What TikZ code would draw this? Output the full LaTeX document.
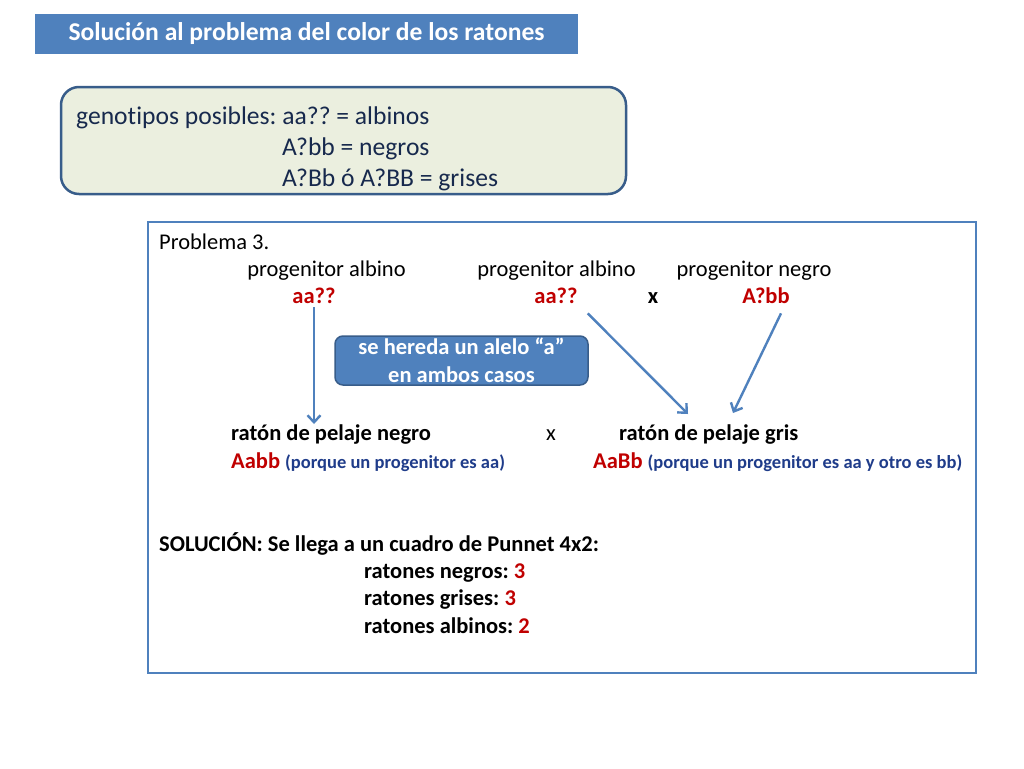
\documentclass[tikz,border=0pt]{standalone}
\usepackage{fontspec}
\setmainfont{Carlito}[Ligatures=NoCommon]
\frenchspacing
\usetikzlibrary{arrows.meta, positioning, calc}
\definecolor{azul}{HTML}{4F81BD}
\definecolor{azulosc}{HTML}{385D8A}
\definecolor{rojo}{HTML}{C00000}
\definecolor{tinta}{HTML}{17294D}
\definecolor{azultx}{HTML}{1F3C8A}
\definecolor{verdoso}{HTML}{EBEFDF}

\begin{document}
\begin{tikzpicture}[x=1pt, y=-1pt,
    titulo/.style={fill=azul, text=white, font=\fontsize{25.6}{30}\selectfont\bfseries, inner sep=0pt},
    genbox/.style={draw=azulosc, line width=2.5pt, fill=verdoso, rounded corners=18pt},
    caja/.style={draw=azul, line width=1.2pt, fill=white},
    pill/.style={draw=azulosc, line width=1.5pt, fill=azul, rounded corners=8pt, text=white, align=center, font=\fontsize{22.5}{28}\selectfont\bfseries},
    gtxt/.style={anchor=base west, inner sep=0pt, text=tinta, font=\fontsize{25.6}{30}\selectfont},
    txt/.style={inner sep=0pt, font=\fontsize{22.5}{27}\selectfont},
    gen/.style={txt, text=rojo, font=\fontsize{22.5}{27}\selectfont\bfseries},
    flecha/.style={draw=azul, line width=2.4pt, -{Straight Barb[length=7pt, width=13pt]}}
]
\path[fill=white, use as bounding box] (0,0) rectangle (1024,768);

% titulo
\node[titulo, minimum width=543pt, minimum height=40pt] (titulo) at (306.5,34) {Solución al problema del color de los ratones};

% genotipos
\node[genbox, minimum width=565pt, minimum height=107pt] (genot) at (343.5,140.5) {};
\node[gtxt] (g1) at (76,124) {genotipos posibles: aa?? = albinos};
\node[gtxt] (g2) at (282,155) {A?bb = negros};
\node[gtxt] (g3) at (282,186) {A?Bb ó A?BB = grises};

% problema
\node[caja, minimum width=828pt, minimum height=451pt] (probl) at (562,447.5) {};
\node[txt, anchor=base west] (p3) at (159,249) {Problema 3.};
\node[txt, anchor=base] (alb1) at (326.5,276) {progenitor albino};
\node[txt, anchor=base] (alb2) at (556.5,276) {progenitor albino};
\node[txt, anchor=base] (negr) at (754,276) {progenitor negro};
\node[gen, anchor=base] (aa1) at (314,303) {aa??};
\node[gen, anchor=base] (aa2) at (556,303) {aa??};
\node[txt, anchor=base, font=\fontsize{22.5}{27}\selectfont\bfseries] (cruce) at (653,303) {x};
\node[gen, anchor=base] (abb) at (766,303) {A?bb};

\node[pill, minimum width=253pt, minimum height=49pt, inner sep=0pt] (herencia) at (461.5,360.5) {se hereda un alelo “a”\\en ambos casos};

% descendientes
\node[txt, anchor=base west, font=\fontsize{22.5}{27}\selectfont\bfseries] (hnegro) at (231,440) {ratón de pelaje negro};
\node[txt, anchor=base] (cruce2) at (551,440) {x};
\node[txt, anchor=base west, font=\fontsize{22.5}{27}\selectfont\bfseries] (hgris) at (619,440) {ratón de pelaje gris};
\node[gen, anchor=base west] (hn1) at (231,468) {Aabb \textcolor{azultx}{\fontsize{18.5}{22}\selectfont (porque un progenitor es aa)}};
\node[gen, anchor=base west] (hg1) at (593,468) {AaBb \textcolor{azultx}{\fontsize{18.5}{22}\selectfont (porque un progenitor es aa y otro es bb)}};

% solucion
\node[txt, anchor=base west, font=\fontsize{22.5}{27}\selectfont\bfseries] (sol) at (159,551) {SOLUCIÓN: Se llega a un cuadro de Punnet 4x2:};
\node[txt, anchor=base west, font=\fontsize{22.5}{27}\selectfont\bfseries] (r1) at (364,578) {ratones negros: \textcolor{rojo}{3}};
\node[txt, anchor=base west, font=\fontsize{22.5}{27}\selectfont\bfseries] (r2) at (364,605) {ratones grises: \textcolor{rojo}{3}};
\node[txt, anchor=base west, font=\fontsize{22.5}{27}\selectfont\bfseries] (r3) at (364,633) {ratones albinos: \textcolor{rojo}{2}};

% flechas
\draw[flecha] ([yshift=-4pt]aa1.south) -- (aa1.south |- hnegro.north);
\draw[flecha] ($(aa2.south east)+(10,10)$) -- ($(hgris.north west)+(69,-10)$);
\draw[flecha] ($(abb.south)+(15,10)$) -- ($(hgris.north west)+(114,-11)$);

\end{tikzpicture}
\end{document}
